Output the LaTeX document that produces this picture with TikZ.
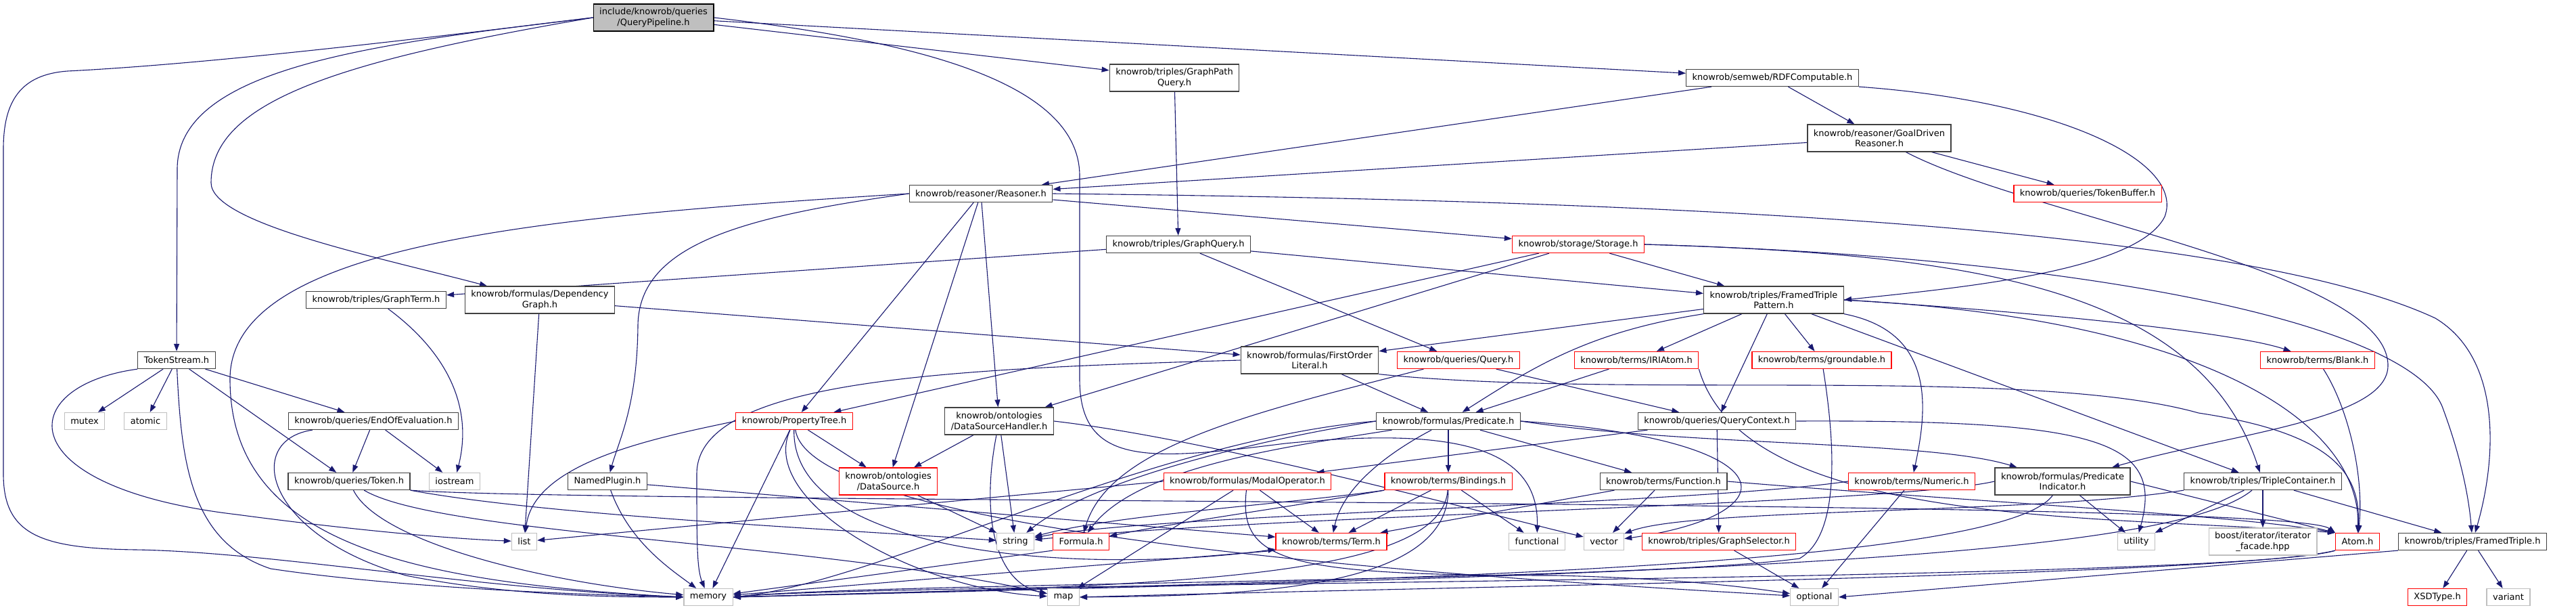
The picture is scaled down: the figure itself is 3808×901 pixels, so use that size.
\documentclass[tikz,border=0pt]{standalone}
\usepackage{fontspec}
\setmainfont{DejaVu Sans}
\usepackage{xcolor}
\usepackage{tikz}
\usetikzlibrary{arrows.meta, backgrounds}
\definecolor{edgeblue}{HTML}{191970}
\definecolor{sysgray}{HTML}{BFBFBF}
\definecolor{hdrline}{HTML}{404040}

\begin{document}
\begin{tikzpicture}[x=1pt, y=-1pt,
    hdr/.style={rectangle, draw=hdrline, fill=white, line width=1.3pt, minimum height=25pt, inner xsep=9pt, inner ysep=3pt, align=center, font=\fontsize{13}{15.5}\selectfont},
    hdrred/.style={hdr, draw=red},
    sys/.style={hdr, draw=sysgray},
    mainhdr/.style={hdr, draw=black, fill=sysgray},
    twoline/.style={minimum height=40pt},
    dep/.style={-{Triangle[length=11pt, width=8pt]}, line width=1.1pt, edgeblue}
  ]
    \useasboundingbox (0,0) rectangle (3808,901);

    \node[mainhdr, twoline] (pipeline) at (966,26) {include/knowrob/queries\\/QueryPipeline.h};
    \node[hdr, twoline] (gpquery) at (1736,115) {knowrob/triples/GraphPath\\Query.h};
    \node[hdr] (rdfcomp) at (2620,115) {knowrob/semweb/RDFComputable.h};
    \node[hdr, twoline] (goalreas) at (2778,204) {knowrob/reasoner/GoalDriven\\Reasoner.h};
    \node[hdr] (reasoner) at (1450,286) {knowrob/reasoner/Reasoner.h};
    \node[hdrred] (tokbuf) at (3086,286) {knowrob/queries/TokenBuffer.h};
    \node[hdr] (graphquery) at (1742,361) {knowrob/triples/GraphQuery.h};
    \node[hdrred] (storage) at (2333,361) {knowrob/storage/Storage.h};
    \node[hdr] (graphterm) at (556,443) {knowrob/triples/GraphTerm.h};
    \node[hdr, twoline] (depgraph) at (798,443) {knowrob/formulas/Dependency\\Graph.h};
    \node[hdr, twoline] (ftpattern) at (2622,443) {knowrob/triples/FramedTriple\\Pattern.h};
    \node[hdr] (tokstream) at (261,532) {TokenStream.h};
    \node[hdr, twoline] (folit) at (1936,532) {knowrob/formulas/FirstOrder\\Literal.h};
    \node[hdrred] (query) at (2156,532) {knowrob/queries/Query.h};
    \node[hdrred] (iriatom) at (2419,532) {knowrob/terms/IRIAtom.h};
    \node[hdrred] (groundable) at (2693,532) {knowrob/terms/groundable.h};
    \node[hdrred] (blank) at (3426,532) {knowrob/terms/Blank.h};
    \node[sys] (mutex) at (125,622) {mutex};
    \node[sys] (atomic) at (215,622) {atomic};
    \node[hdr] (endeval) at (552,622) {knowrob/queries/EndOfEvaluation.h};
    \node[hdrred] (proptree) at (1174,622) {knowrob/PropertyTree.h};
    \node[hdr, twoline] (dshandler) at (1477,622) {knowrob/ontologies\\/DataSourceHandler.h};
    \node[hdr] (predicate) at (2141,622) {knowrob/formulas/Predicate.h};
    \node[hdr] (qcontext) at (2538,622) {knowrob/queries/QueryContext.h};
    \node[hdr] (token) at (516,711) {knowrob/queries/Token.h};
    \node[sys] (iostream) at (672,711) {iostream};
    \node[hdr] (namedplugin) at (898,711) {NamedPlugin.h};
    \node[hdrred, twoline] (datasource) at (1313,711) {knowrob/ontologies\\/DataSource.h};
    \node[hdrred] (modalop) at (1844,711) {knowrob/formulas/ModalOperator.h};
    \node[hdrred] (bindings) at (2141,711) {knowrob/terms/Bindings.h};
    \node[hdr] (function) at (2459,711) {knowrob/terms/Function.h};
    \node[hdrred] (numeric) at (2826,711) {knowrob/terms/Numeric.h};
    \node[hdr, twoline] (predind) at (3049,711) {knowrob/formulas/Predicate\\Indicator.h};
    \node[hdr] (triplecont) at (3345,711) {knowrob/triples/TripleContainer.h};
    \node[sys] (list) at (775,800) {list};
    \node[sys] (string) at (1501,800) {string};
    \node[hdrred] (formula) at (1598,800) {Formula.h};
    \node[hdrred] (term) at (1968,800) {knowrob/terms/Term.h};
    \node[sys] (functional) at (2272,800) {functional};
    \node[sys] (vector) at (2371,800) {vector};
    \node[hdrred] (graphsel) at (2541,800) {knowrob/triples/GraphSelector.h};
    \node[sys] (utility) at (3158,800) {utility};
    \node[sys, twoline] (boostiter) at (3345,800) {boost/iterator/iterator\\\_facade.hpp};
    \node[hdrred] (atom) at (3485,800) {Atom.h};
    \node[hdr] (framedtriple) at (3655,800) {knowrob/triples/FramedTriple.h};
    \node[sys] (memory) at (1047,882) {memory};
    \node[sys] (map) at (1572,882) {map};
    \node[sys] (optional) at (2682,882) {optional};
    \node[hdrred] (xsdtype) at (3603,882) {XSDType.h};
    \node[sys] (variant) at (3708,882) {variant};

    \begin{scope}[on background layer]
    \fill[white] (0,0) rectangle (3808,901);

    \draw[dep] (pipeline.west) .. controls (600,60) and (300,95) .. (100,105) .. controls (30,110) and (5,150) .. (5,220) -- (5,700) .. controls (5,790) and (60,810) .. (200,812) .. controls (400,815) and (700,870) .. (memory.west);
    \draw[dep] (pipeline.west) .. controls (550,65) and (262,100) .. (262,250) -- (tokstream);
    \draw[dep] (pipeline.west) .. controls (500,90) and (312,150) .. (312,270) .. controls (312,330) and (560,380) .. (depgraph);
    \draw[dep] (pipeline.east) .. controls (1350,60) and (1596,120) .. (1596,260) -- (1596,560) .. controls (1596,690) and (1700,680) .. (1900,655) .. controls (2150,630) and (2275,660) .. (functional);
    \draw[dep] (pipeline) -- (gpquery);
    \draw[dep] (pipeline) -- (rdfcomp);
    \draw[dep] (gpquery) -- (graphquery);
    \draw[dep] (rdfcomp) -- (reasoner);
    \draw[dep] (rdfcomp) -- (goalreas);
    \draw[dep] (rdfcomp.south east) .. controls (3050,150) and (3230,240) .. (3200,320) .. controls (3160,400) and (2900,425) .. (ftpattern.east);
    \draw[dep] (goalreas) -- (reasoner);
    \draw[dep] (goalreas) -- (tokbuf);
    \draw[dep] (goalreas) .. controls (3000,320) and (3530,400) .. (3530,540) .. controls (3530,620) and (3300,640) .. (predind);

    \draw[dep] (reasoner.west) .. controls (800,320) and (340,360) .. (340,560) .. controls (340,800) and (600,860) .. (memory.west);
    \draw[dep] (reasoner.west) .. controls (1100,320) and (945,360) .. (943,480) .. controls (942,600) and (915,650) .. (namedplugin);
    \draw[dep] (reasoner) -- (proptree);
    \draw[dep] (reasoner) -- (datasource);
    \draw[dep] (reasoner) -- (dshandler);
    \draw[dep] (reasoner) -- (storage);
    \draw[dep] (reasoner.east) .. controls (2400,295) and (3300,330) .. (3600,470) .. controls (3700,530) and (3690,680) .. (framedtriple);

    \draw[dep] (graphquery) -- (graphterm);
    \draw[dep] (graphquery) -- (query);
    \draw[dep] (graphquery) -- (ftpattern);
    \draw[dep] (storage) -- (ftpattern);
    \draw[dep] (storage) -- (dshandler);
    \draw[dep] (storage) -- (proptree);
    \draw[dep] (storage.east) .. controls (2900,375) and (3250,420) .. (triplecont);
    \draw[dep] (storage.east) .. controls (3100,380) and (3560,480) .. (3610,600) .. controls (3640,680) and (3650,740) .. (framedtriple);

    \draw[dep] (graphterm) .. controls (660,520) and (700,600) .. (iostream);
    \draw[dep] (depgraph) -- (list);
    \draw[dep] (depgraph) -- (folit);

    \draw[dep] (ftpattern) -- (folit);
    \draw[dep] (ftpattern.south west) .. controls (2350,490) and (2270,540) .. (predicate);
    \draw[dep] (ftpattern) -- (iriatom);
    \draw[dep] (ftpattern) -- (qcontext);
    \draw[dep] (ftpattern) -- (groundable);
    \draw[dep] (ftpattern) -- (triplecont);
    \draw[dep] (ftpattern.south east) .. controls (2860,490) and (2850,600) .. (numeric);
    \draw[dep] (ftpattern.east) .. controls (3000,460) and (3300,490) .. (blank);
    \draw[dep] (ftpattern.east) .. controls (3250,470) and (3490,620) .. (atom);

    \draw[dep] (tokstream) -- (mutex);
    \draw[dep] (tokstream) -- (atomic);
    \draw[dep] (tokstream.south west) .. controls (20,570) and (10,720) .. (350,760) .. controls (500,780) and (650,795) .. (list);
    \draw[dep] (tokstream) .. controls (268,680) and (280,800) .. (400,840) .. controls (600,870) and (900,880) .. (memory);
    \draw[dep] (tokstream) -- (token);
    \draw[dep] (tokstream) -- (endeval);
    \draw[dep] (endeval) .. controls (360,650) and (390,790) .. (600,850) .. controls (750,880) and (900,882) .. (memory);
    \draw[dep] (endeval) -- (token);
    \draw[dep] (endeval) -- (iostream);

    \draw[dep] (token) .. controls (560,800) and (800,860) .. (memory);
    \draw[dep] (token) .. controls (650,790) and (1200,800) .. (map);
    \draw[dep] (token.south east) .. controls (800,760) and (1200,780) .. (string);
    \draw[dep] (token.south east) .. controls (900,745) and (3380,735) .. (atom.north west);
    \draw[dep] (namedplugin) .. controls (930,800) and (990,840) .. (memory);
    \draw[dep] (namedplugin) -- (term);

    \draw[dep] (proptree.west) .. controls (980,645) and (790,680) .. (list);
    \draw[dep] (proptree) -- (memory);
    \draw[dep] (proptree) .. controls (1120,740) and (1350,870) .. (map);
    \draw[dep] (proptree) -- (datasource);
    \draw[dep] (proptree) .. controls (1170,820) and (1600,850) .. (term);
    \draw[dep] (proptree) .. controls (1200,800) and (2300,860) .. (optional);
    \draw[dep] (dshandler) -- (datasource);
    \draw[dep] (dshandler) -- (string);
    \draw[dep] (dshandler) .. controls (1450,760) and (1470,860) .. (map);
    \draw[dep] (dshandler.east) .. controls (1800,650) and (2200,760) .. (vector);
    \draw[dep] (datasource) -- (string);

    \draw[dep] (folit) -- (predicate);
    \draw[dep] (folit.west) .. controls (1400,545) and (1030,560) .. (1030,700) .. controls (1030,800) and (1030,840) .. (memory);
    \draw[dep] (folit.south east) .. controls (2400,590) and (3000,540) .. (3250,610) .. controls (3450,640) and (3490,700) .. (atom);
    \draw[dep] (query) -- (qcontext);
    \draw[dep] (query) .. controls (1850,610) and (1640,660) .. (formula);
    \draw[dep] (iriatom) -- (predicate);
    \draw[dep] (iriatom.south east) .. controls (2580,780) and (3100,760) .. (atom.north west);
    \draw[dep] (groundable) .. controls (2712,650) and (2722,790) .. (2660,825) .. controls (2400,860) and (1300,860) .. (memory.east);
    \draw[dep] (blank) .. controls (3470,600) and (3495,700) .. (atom);

    \draw[dep] (predicate.west) .. controls (1700,650) and (1300,860) .. (memory.east);
    \draw[dep] (predicate.west) .. controls (1800,660) and (1600,720) .. (string);
    \draw[dep] (predicate) .. controls (1900,660) and (1680,690) .. (formula);
    \draw[dep] (predicate) .. controls (2050,670) and (1985,720) .. (term);
    \draw[dep] (predicate) -- (bindings);
    \draw[dep] (predicate) -- (function);
    \draw[dep] (predicate.east) .. controls (2650,650) and (2650,760) .. (vector);
    \draw[dep] (predicate.east) .. controls (2500,660) and (2850,650) .. (predind);
    \draw[dep] (qcontext) -- (modalop);
    \draw[dep] (qcontext) -- (graphsel);
    \draw[dep] (qcontext.east) .. controls (3100,620) and (3200,650) .. (utility);

    \draw[dep] (modalop.west) -- (list);
    \draw[dep] (modalop) -- (map);
    \draw[dep] (modalop) -- (term);
    \draw[dep] (modalop) .. controls (1830,830) and (1900,850) .. (2300,850) .. controls (2500,855) and (2600,870) .. (optional);
    \draw[dep] (bindings) -- (term);
    \draw[dep] (bindings) -- (functional);
    \draw[dep] (bindings.south west) .. controls (1900,750) and (1750,770) .. (formula);
    \draw[dep] (bindings.south west) .. controls (1900,745) and (1650,760) .. (string);
    \draw[dep] (bindings) .. controls (2130,860) and (1700,865) .. (memory.east);
    \draw[dep] (bindings) .. controls (2140,870) and (1850,880) .. (map.east);
    \draw[dep] (function) -- (term);
    \draw[dep] (function) -- (vector);
    \draw[dep] (function.east) .. controls (2900,740) and (3300,760) .. (atom.north west);
    \draw[dep] (numeric.west) .. controls (2500,745) and (1700,760) .. (string);
    \draw[dep] (numeric) -- (optional);

    \draw[dep] (predind) -- (utility);
    \draw[dep] (predind.east) -- (atom.north west);
    \draw[dep] (predind.west) .. controls (2800,745) and (1900,760) .. (string);
    \draw[dep] (predind) .. controls (2950,850) and (1800,860) .. (memory.east);
    \draw[dep] (triplecont) -- (utility);
    \draw[dep] (triplecont) -- (boostiter);
    \draw[dep] (triplecont) -- (framedtriple);
    \draw[dep] (triplecont.south west) .. controls (3000,760) and (2500,750) .. (vector);
    \draw[dep] (triplecont) .. controls (3200,830) and (2400,850) .. (memory.east);

    \draw[dep] (formula.south west) -- (memory);
    \draw[dep] (term.south west) -- (memory);
    \draw[dep] (graphsel) -- (optional);
    \draw[dep] (atom.south west) .. controls (3300,850) and (2200,865) .. (map.east);
    \draw[dep] (atom.south west) .. controls (3300,860) and (1300,860) .. (memory.east);
    \draw[dep] (framedtriple) -- (xsdtype);
    \draw[dep] (framedtriple) -- (variant);
    \draw[dep] (framedtriple.south west) -- (optional.east);
    \end{scope}

\end{tikzpicture}
\end{document}
